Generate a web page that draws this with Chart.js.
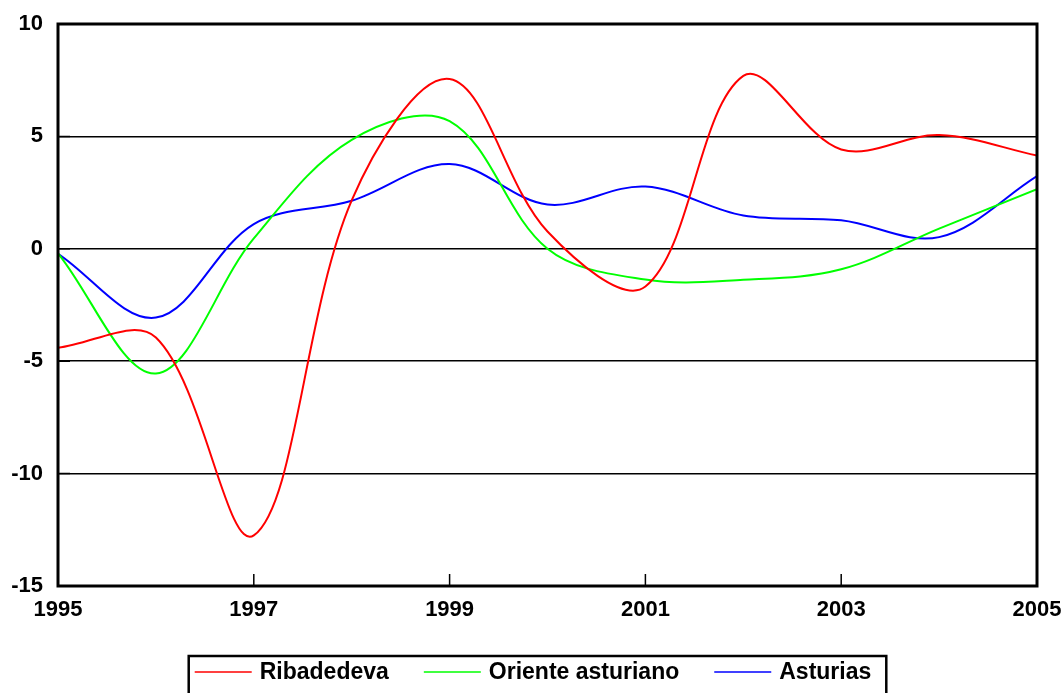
<!DOCTYPE html>
<html lang="es">
<head>
  <meta charset="UTF-8">
  <title>Ribadedeva – Oriente asturiano – Asturias</title>
  <script src="https://cdn.jsdelivr.net/npm/chart.js"></script>
  <style>
    * { margin: 0; padding: 0; }
    body { background: #fff; width: 1063px; height: 693px; overflow: hidden; }
    canvas { display: block; }
  </style>
</head>
<body>
<canvas id="chart" width="1063" height="693"></canvas>

<script>
  // data
  const years = [1995, 1996, 1997, 1998, 1999, 2000, 2001, 2002, 2003, 2004, 2005];
  const ribadedeva = [-4.4, -3.95, -12.75, 2.15, 7.55, 0.77, -1.68, 7.69, 4.42, 5.06, 4.15];
  const oriente = [-0.2, -5.55, 0.46, 4.85, 5.68, 0.0, -1.37, -1.38, -0.91, 0.9, 2.65];
  const asturias = [-0.22, -3.06, 1.1, 2.14, 3.77, 1.97, 2.77, 1.48, 1.27, 0.52, 3.23];
  const xTicks = [1995, 1997, 1999, 2001, 2003, 2005];
  const yTicks = [-15, -10, -5, 0, 5, 10];

  const FAMILY = '"Liberation Sans", Arial, sans-serif';
  const pts = arr => arr.map((v, i) => ({ x: years[i], y: v }));

  // frame, inner tick marks and the boxed legend
  const extras = {
    id: 'extras',
    afterDatasetsDraw(chart) {
      const { ctx, chartArea: a, scales: { x, y } } = chart;
      ctx.save();
      ctx.strokeStyle = '#000';
      ctx.lineWidth = 1.5;
      ctx.beginPath();
      yTicks.forEach(t => {
        const py = y.getPixelForValue(t);
        ctx.moveTo(a.left, py); ctx.lineTo(a.left + 12, py);
      });
      xTicks.forEach(t => {
        const px = x.getPixelForValue(t);
        ctx.moveTo(px, a.bottom); ctx.lineTo(px, a.bottom - 12);
      });
      ctx.stroke();
      ctx.lineWidth = 3;
      ctx.strokeRect(a.left, a.top, a.right - a.left, a.bottom - a.top);

      // legend
      ctx.font = 'bold 23px ' + FAMILY;
      ctx.textBaseline = 'middle';
      const lineW = 57, gap = 8, itemGap = 35, ly = 672;
      const items = chart.data.datasets.map(d => ({ label: d.label, color: d.borderColor, w: ctx.measureText(d.label).width }));
      const total = items.reduce((s, it) => s + lineW + gap + it.w, 0) + itemGap * (items.length - 1);
      let cx = 533 - total / 2;
      const start = cx;
      items.forEach(it => {
        ctx.strokeStyle = it.color;
        ctx.lineWidth = 1.5;
        ctx.beginPath();
        ctx.moveTo(cx, ly); ctx.lineTo(cx + lineW, ly);
        ctx.stroke();
        ctx.fillStyle = '#000';
        ctx.fillText(it.label, cx + lineW + gap, ly + 1);
        cx += lineW + gap + it.w + itemGap;
      });
      const end = cx - itemGap;
      ctx.strokeStyle = '#000';
      ctx.lineWidth = 2.5;
      ctx.strokeRect(start - 6, 656, end - start + 21, 60);
      ctx.restore();
    }
  };

  new Chart(document.getElementById('chart'), {
    type: 'line',
    data: {
      datasets: [
        { label: 'Ribadedeva', data: pts(ribadedeva), borderColor: '#ff0000' },
        { label: 'Oriente asturiano', data: pts(oriente), borderColor: '#00ff00' },
        { label: 'Asturias', data: pts(asturias), borderColor: '#0000ff' }
      ]
    },
    options: {
      responsive: false,
      animation: false,
      devicePixelRatio: 1,
      layout: { padding: { top: 24, right: 26, bottom: 71, left: 0 } },
      elements: {
        line: { borderWidth: 2, tension: 0.35, fill: false },
        point: { radius: 0 }
      },
      plugins: { legend: { display: false }, tooltip: { enabled: false } },
      scales: {
        x: {
          type: 'linear',
          min: 1995, max: 2005,
          afterBuildTicks: s => { s.ticks = xTicks.map(v => ({ value: v })); },
          afterFit: s => { s.height = 36; s.paddingLeft = 0; s.paddingRight = 0; },
          ticks: { color: '#000', font: { family: FAMILY, size: 22, weight: 'bold' }, padding: 11, maxRotation: 0, callback: v => String(v) },
          grid: { display: false, drawTicks: false },
          border: { display: false }
        },
        y: {
          min: -15, max: 10,
          afterBuildTicks: s => { s.ticks = yTicks.map(v => ({ value: v })); },
          afterFit: s => { s.width = 58; s.paddingTop = 0; s.paddingBottom = 0; },
          ticks: { color: '#000', font: { family: FAMILY, size: 22, weight: 'bold' }, padding: 15 },
          grid: { color: '#000', lineWidth: 1.5, drawTicks: false },
          border: { display: false }
        }
      }
    },
    plugins: [extras]
  });
</script>
</body>
</html>
